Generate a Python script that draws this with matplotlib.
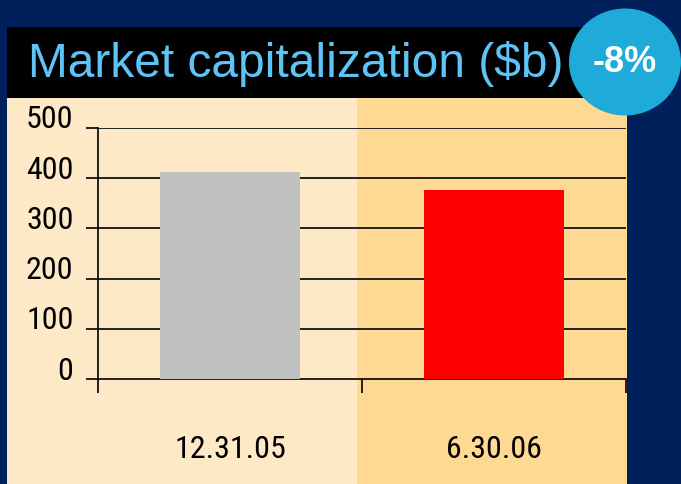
import matplotlib
matplotlib.use("Agg")
import matplotlib.pyplot as plt
from matplotlib.patches import Rectangle, Ellipse
from matplotlib.transforms import ScaledTranslation

# chart data
categories = ["12.31.05", "6.30.06"]
values = [412, 377]
bar_colors = ["#c0c0c0", "#ff0000"]
yticks = [0, 100, 200, 300, 400, 500]
title = "Market capitalization ($b)"
change = "-8%"

W, H = 681, 484
fig = plt.figure(figsize=(W / 100, H / 100), dpi=100)
fig.patch.set_facecolor("#00205b")

# background layer in pixel coordinates
bg = fig.add_axes([0, 0, 1, 1])
bg.set_xlim(0, W)
bg.set_ylim(H, 0)
bg.axis("off")
bg.add_patch(Rectangle((7, 98), 350, H - 98, color="#fee9c6", lw=0))
bg.add_patch(Rectangle((357, 98), 270, H - 98, color="#fed994", lw=0))
bg.add_patch(Rectangle((7, 27), 600, 71, color="#000000", lw=0))
bg.add_patch(Ellipse((625, 62), 112, 107, color="#1eabd9", lw=0))
bg.text(28, 64, title, color="#5ec3f5", fontsize=34.5,
        family="Liberation Sans", ha="left", va="center")
bg.text(625, 63, change, color="white", fontsize=26, fontweight="bold",
        family="Liberation Sans", ha="center", va="center")

# main chart
narrow = ["Roboto Condensed", "Liberation Sans"]
ax = fig.add_axes([98 / W, 1 - 379 / H, (626 - 98) / W, (379 - 128) / H])
ax.patch.set_alpha(0)
x = list(range(len(categories)))
ax.bar(x, values, width=0.53, color=bar_colors, zorder=3)
ax.set_xlim(-0.5, 1.5)
ax.set_ylim(0, 500)

for v in yticks[1:]:
    ax.axhline(v, color="#222222", lw=1.4, zorder=1)

for s in ["top", "right"]:
    ax.spines[s].set_visible(False)
ax.spines["left"].set_linewidth(1.2)
ax.spines["bottom"].set_linewidth(1.2)

ax.set_yticks(yticks)
ax.set_yticklabels([str(t) for t in yticks], family=narrow, fontsize=23)
ax.tick_params(axis="y", direction="out", length=8.6, width=1.2, pad=9)
for lab in ax.get_yticklabels():
    lab.set_transform(lab.get_transform() +
                      ScaledTranslation(0, 11 / 100, fig.dpi_scale_trans))

ax.set_xticks([-0.5, 0.5, 1.5])
ax.set_xticklabels([])
ax.tick_params(axis="x", which="major", direction="out", length=10, width=1.2)
ax.set_xticks(x, categories, minor=True)
ax.tick_params(axis="x", which="minor", length=0, pad=40)
for lab in ax.get_xticklabels(minor=True):
    lab.set_family(narrow)
    lab.set_fontsize(23)

fig.savefig("out.png", dpi=100, facecolor=fig.get_facecolor())
